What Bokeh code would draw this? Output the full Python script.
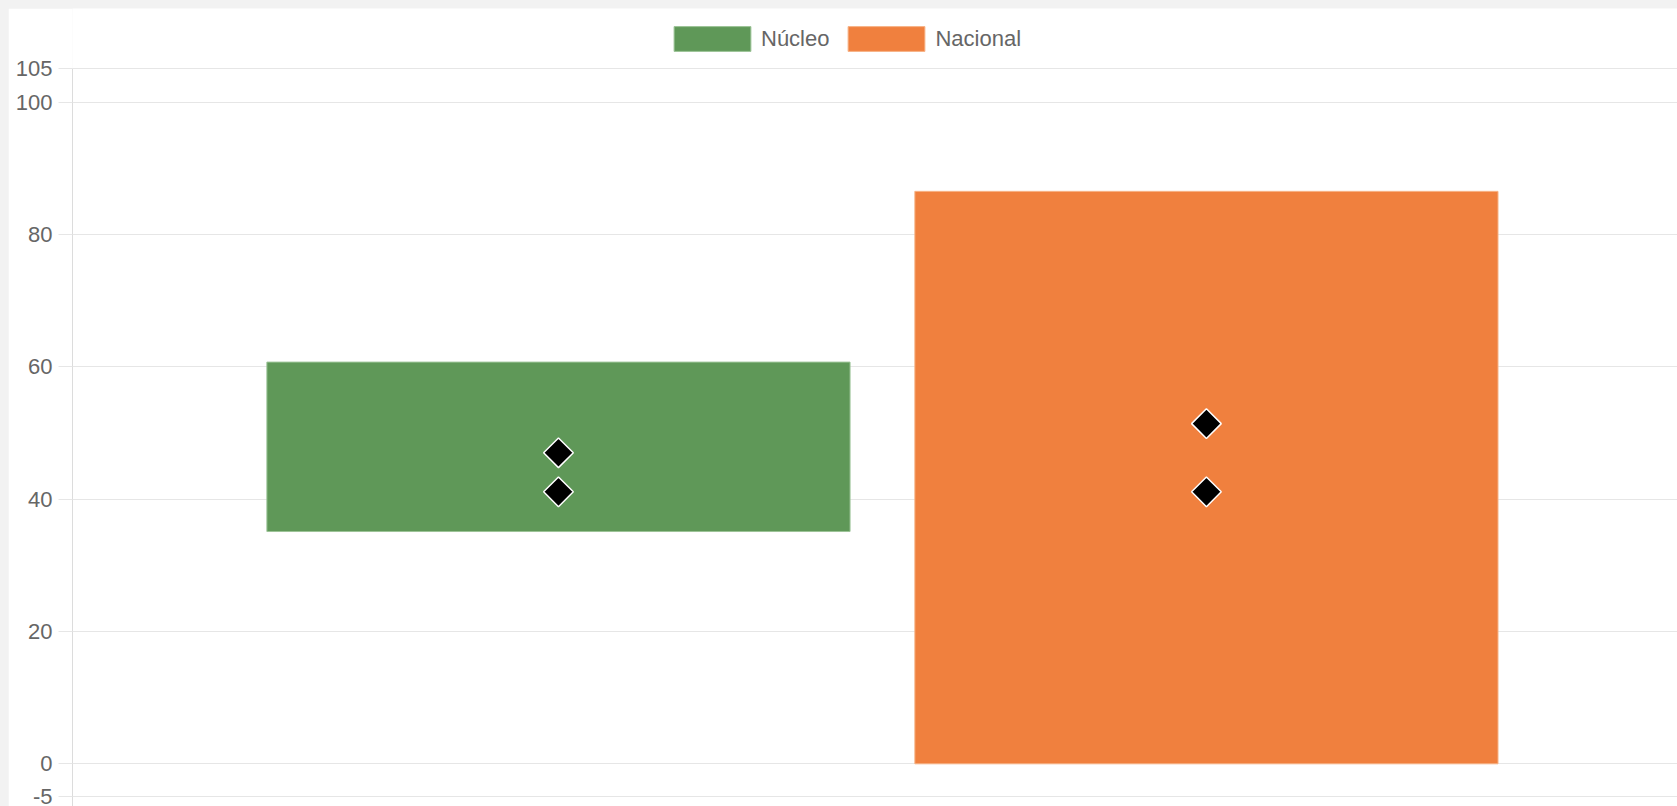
import math
from bokeh.plotting import figure
from bokeh.models import Range1d, FixedTicker, Legend, LegendItem, ColumnDataSource, PrintfTickFormatter
from bokeh.embed import file_html
from bokeh.resources import INLINE

# ---- data ----
categories = ["Núcleo", "Nacional"]
bar_low = [35.1, 0.0]
bar_high = [60.7, 86.5]
marker_upper = [47.0, 51.4]
marker_lower = [41.1, 41.1]
y_ticks = [-5, 0, 20, 40, 60, 80, 100, 105]

bar_colors = ["#5f9858", "#f0803e"]
bar_edges = ["#9cc497", "#f7b387"]

positions = list(range(len(categories)))
bar_width = 0.9
y_min, y_max = -6.45, 105
y_top = 114.13  # room above the axis for the legend

p = figure(width=1669, height=798, output_backend="svg", toolbar_location=None,
           x_range=Range1d(-0.75, 1.727), y_range=Range1d(y_min, y_top),
           x_axis_location=None, min_border_left=64, min_border_right=0,
           min_border_top=0, min_border_bottom=0)
p.outline_line_color = None
p.background_fill_color = "white"
p.border_fill_color = "white"

items = []
for i, cat in enumerate(categories):
    src = ColumnDataSource(dict(left=[positions[i] - bar_width / 2], right=[positions[i] + bar_width / 2],
                                bottom=[bar_low[i]], top=[bar_high[i]]))
    r = p.quad(left="left", right="right", bottom="bottom", top="top", source=src,
               fill_color=bar_colors[i], line_color=bar_edges[i], line_width=1)
    items.append(LegendItem(label=cat, renderers=[r]))

for vals in (marker_upper, marker_lower):
    p.scatter(x=positions, y=vals, marker="square", angle=math.pi / 4, size=21,
              fill_color="black", line_color="white", line_width=1.5)

# axes & grid
ax = p.yaxis[0]
ax.bounds = (y_min, y_max)
ax.ticker = FixedTicker(ticks=y_ticks)
ax.formatter = PrintfTickFormatter(format="%d")
ax.axis_line_color = "#dcdcdc"
ax.major_tick_line_color = "#e6e6e6"
ax.major_tick_out = 14
ax.major_tick_in = 0
ax.minor_tick_line_color = None
ax.major_label_standoff = 6
ax.major_label_text_color = "#666666"
ax.major_label_text_font = "Liberation Sans"
ax.major_label_text_font_size = "22px"

p.xgrid.visible = False
p.ygrid.ticker = FixedTicker(ticks=y_ticks)
p.ygrid.grid_line_color = "#e6e6e6"

legend = Legend(items=items, orientation="horizontal", location=(592, 752),
                margin=0, padding=0, spacing=9, label_standoff=1,
                glyph_width=96, glyph_height=31, label_height=31,
                border_line_color=None, background_fill_alpha=0,
                label_text_color="#666666", label_text_font="Liberation Sans",
                label_text_font_size="22px")
p.add_layout(legend, "center")

html = file_html(p, INLINE)
style = ("<style>html, body { background: #f2f2f2 !important; overflow: hidden; } "
         "body { margin: 0 !important; padding: 8px 0 0 8px !important; }</style>")
html = html.replace("</head>", style + "</head>", 1)
open("out.html", "w").write(html)
